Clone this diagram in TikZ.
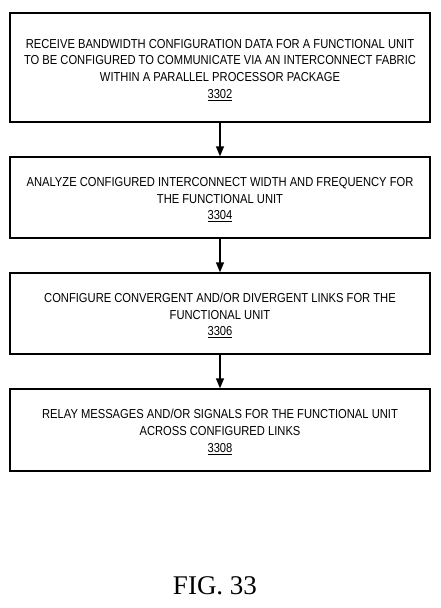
\documentclass[tikz,border=0pt]{standalone}
\usepackage{fontspec}
\setmainfont{Liberation Sans}[FakeStretch=0.86]
\newfontfamily\capfont{Liberation Serif}
\usetikzlibrary{arrows.meta}
\newcommand{\dropline}{\rule{0pt}{13.4pt}}
\begin{document}
\begin{tikzpicture}[x=1pt,y=-1pt,
  stepbox/.style={draw,line width=1.4pt,minimum width=420pt,align=center,inner sep=0pt,font=\fontsize{13}{16.7}\selectfont},
  flow/.style={line width=1.4pt,-{Triangle[length=10pt,width=8pt]}}]
\useasboundingbox (0,0) rectangle (441,608);
\node[stepbox,minimum height=109pt] (s1) at (220,67.5) {\dropline RECEIVE BANDWIDTH CONFIGURATION DATA FOR A FUNCTIONAL UNIT\\TO BE CONFIGURED TO COMMUNICATE VIA AN INTERCONNECT FABRIC\\WITHIN A PARALLEL PROCESSOR PACKAGE\\\underline{3302}};
\node[stepbox,minimum height=81pt] (s2) at (220,197.5) {\dropline ANALYZE CONFIGURED INTERCONNECT WIDTH AND FREQUENCY FOR\\THE FUNCTIONAL UNIT\\\underline{3304}};
\node[stepbox,minimum height=81pt] (s3) at (220,313.5) {\dropline CONFIGURE CONVERGENT AND/OR DIVERGENT LINKS FOR THE\\FUNCTIONAL UNIT\\\underline{3306}};
\node[stepbox,minimum height=82pt] (s4) at (220,430) {\dropline RELAY MESSAGES AND/OR SIGNALS FOR THE FUNCTIONAL UNIT\\ACROSS CONFIGURED LINKS\\\underline{3308}};
\draw[flow] (s1) -- (s2);
\draw[flow] (s2) -- (s3);
\draw[flow] (s3) -- (s4);
\node[font=\capfont\fontsize{27}{30}\selectfont] (cap) at (215,586) {FIG. 33};
\end{tikzpicture}
\end{document}
